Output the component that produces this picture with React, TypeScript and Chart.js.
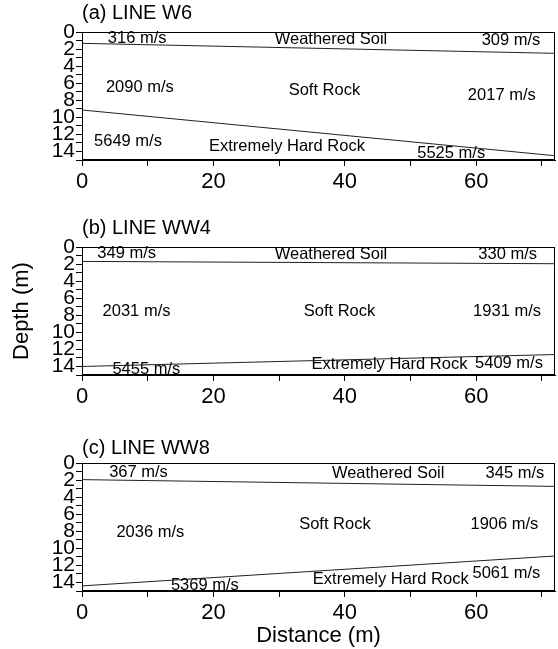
import React, { useEffect, useRef } from 'react';
import { Chart, registerables } from 'chart.js';

Chart.register(...registerables);

const FONT = "'Liberation Sans', Arial, Helvetica, sans-serif";

// Distance (m) at the two ends of each boundary line
const distanceEnds = [0, 72];

// Boundary depths (m) at distance 0 and 72
const w6SoilBase = [1.33, 2.5];
const w6RockBase = [9.14, 14.5];
const ww4SoilBase = [1.69, 1.96];
const ww4RockBase = [14.0, 12.6];
const ww8SoilBase = [1.95, 2.74];
const ww8RockBase = [14.4, 10.9];

// Layer names
const layerNames = ['Weathered Soil', 'Soft Rock', 'Extremely Hard Rock'];

// Velocities: soil left, soil right, soft left, soft right, hard left, hard right
const w6Velocities = ['316 m/s', '309 m/s', '2090 m/s', '2017 m/s', '5649 m/s', '5525 m/s'];
const ww4Velocities = ['349 m/s', '330 m/s', '2031 m/s', '1931 m/s', '5455 m/s', '5409 m/s'];
const ww8Velocities = ['367 m/s', '345 m/s', '2036 m/s', '1906 m/s', '5369 m/s', '5061 m/s'];

// Label anchor points [distance, depth]: soilL, soilName, soilR, softL, softName, softR, hardL, hardName, hardR
const w6LabelAt = [[8.4, 0.75], [37.9, 0.9], [65.3, 1.0], [8.8, 6.5], [36.9, 6.9], [63.9, 7.4], [7.0, 12.8], [31.2, 13.4], [56.2, 14.2]];
const ww4LabelAt = [[6.8, 0.73], [37.9, 0.9], [64.8, 0.9], [8.3, 7.5], [39.2, 7.5], [64.7, 7.5], [9.8, 14.4], [46.8, 13.8], [65.0, 13.6]];
const ww8LabelAt = [[8.6, 1.1], [46.6, 1.2], [65.9, 1.2], [10.4, 8.1], [38.5, 7.2], [64.3, 7.2], [18.7, 14.3], [47.0, 13.7], [64.6, 12.9]];

// Axis ticks
const depthTickLabels = [0, 2, 4, 6, 8, 10, 12, 14];
const distanceTickLabels = [0, 20, 40, 60];

type PanelCfg = {
  title: string;
  soil: number[];
  rock: number[];
  velocities: string[];
  labelAt: number[][];
  top: number;
  height: number;
  titlePad: { top: number; bottom: number };
  xAxisH: number;
  showYTitle: boolean;
  showXTitle: boolean;
};

const panels: PanelCfg[] = [
  { title: '(a) LINE W6', soil: w6SoilBase, rock: w6RockBase, velocities: w6Velocities, labelAt: w6LabelAt, top: 0, height: 200, titlePad: { top: 1, bottom: 7 }, xAxisH: 40, showYTitle: false, showXTitle: false },
  { title: '(b) LINE WW4', soil: ww4SoilBase, rock: ww4RockBase, velocities: ww4Velocities, labelAt: ww4LabelAt, top: 215, height: 200, titlePad: { top: 1, bottom: 7 }, xAxisH: 40, showYTitle: true, showXTitle: false },
  { title: '(c) LINE WW8', soil: ww8SoilBase, rock: ww8RockBase, velocities: ww8Velocities, labelAt: ww8LabelAt, top: 431, height: 218, titlePad: { top: 5, bottom: 3 }, xAxisH: 58, showYTitle: false, showXTitle: true },
];

function makeLabelPlugin(cfg: PanelCfg) {
  const texts = [
    cfg.velocities[0], layerNames[0], cfg.velocities[1],
    cfg.velocities[2], layerNames[1], cfg.velocities[3],
    cfg.velocities[4], layerNames[2], cfg.velocities[5],
  ];
  return {
    id: 'layerLabels',
    afterDatasetsDraw(chart: any) {
      const { ctx, chartArea, scales } = chart;
      ctx.save();
      ctx.strokeStyle = '#000';
      ctx.lineWidth = 1;
      ctx.strokeRect(chartArea.left + 0.5, chartArea.top + 0.5, chartArea.right - chartArea.left - 1, chartArea.bottom - chartArea.top - 1);
      ctx.fillStyle = '#000';
      ctx.font = `16.5px ${FONT}`;
      ctx.textAlign = 'center';
      ctx.textBaseline = 'middle';
      texts.forEach((t, i) => {
        const [dx, dy] = cfg.labelAt[i];
        ctx.fillText(t, scales.x.getPixelForValue(dx), scales.y.getPixelForValue(dy));
      });
      ctx.restore();
    },
  };
}

function Panel({ cfg }: { cfg: PanelCfg }) {
  const ref = useRef<HTMLCanvasElement>(null);
  useEffect(() => {
    if (!ref.current) return;
    const lineStyle = { borderColor: '#222', borderWidth: 1, pointRadius: 0, fill: false, tension: 0 };
    const chart = new Chart(ref.current, {
      type: 'line',
      data: {
        datasets: [
          { label: 'Soil base', data: distanceEnds.map((x, i) => ({ x, y: cfg.soil[i] })), ...lineStyle },
          { label: 'Rock top', data: distanceEnds.map((x, i) => ({ x, y: cfg.rock[i] })), ...lineStyle },
        ],
      },
      options: {
        responsive: false,
        animation: false,
        devicePixelRatio: 1,
        layout: { padding: { left: 0, right: 3, top: 0, bottom: 0 } },
        plugins: {
          legend: { display: false },
          tooltip: { enabled: false },
          title: {
            display: true,
            text: cfg.title,
            align: 'start',
            fullSize: false,
            color: '#000',
            font: { family: FONT, size: 20, weight: 'normal', lineHeight: 1.2 },
            padding: cfg.titlePad,
          },
        },
        scales: {
          x: {
            type: 'linear',
            min: 0,
            max: 72,
            afterFit: (s: any) => { s.height = cfg.xAxisH; },
            ticks: {
              stepSize: 10,
              includeBounds: false,
              autoSkip: false,
              maxRotation: 0,
              color: '#000',
              padding: 3,
              font: { family: FONT, size: 22 },
              callback: (v: any) => (distanceTickLabels.includes(Number(v)) ? String(v) : ''),
            },
            grid: { drawOnChartArea: false, drawTicks: true, tickLength: 6, color: '#000' },
            border: { display: true, color: '#000', width: 1 },
            title: {
              display: cfg.showXTitle,
              text: 'Distance (m)',
              color: '#000',
              font: { family: FONT, size: 22, lineHeight: 1.2 },
              padding: { top: 0, bottom: 0 },
            },
          },
          y: {
            type: 'linear',
            reverse: true,
            min: 0,
            max: 15,
            afterFit: (s: any) => { s.width = 82; },
            ticks: {
              stepSize: 1,
              autoSkip: false,
              color: '#000',
              padding: 1,
              font: { family: FONT, size: 21, lineHeight: 1 },
              callback: (v: any) => (depthTickLabels.includes(Number(v)) ? String(v) : ''),
            },
            grid: { drawOnChartArea: false, drawTicks: true, tickLength: 6, color: '#000' },
            border: { display: true, color: '#000', width: 1 },
            title: {
              display: cfg.showYTitle,
              text: 'Depth (m)',
              color: '#000',
              font: { family: FONT, size: 22, lineHeight: 1.2 },
              padding: { top: 9, bottom: 0 },
            },
          },
        },
      } as any,
      plugins: [makeLabelPlugin(cfg)],
    });
    return () => chart.destroy();
  }, [cfg]);
  return (
    <canvas
      ref={ref}
      width={558}
      height={cfg.height}
      style={{ position: 'absolute', left: 0, top: cfg.top, width: 558, height: cfg.height }}
    />
  );
}

export default function App() {
  return (
    <div style={{ position: 'absolute', left: 0, top: 0, width: 558, height: 649, background: '#fff', overflow: 'hidden' }}>
      {panels.map((p) => (
        <Panel key={p.title} cfg={p} />
      ))}
    </div>
  );
}
